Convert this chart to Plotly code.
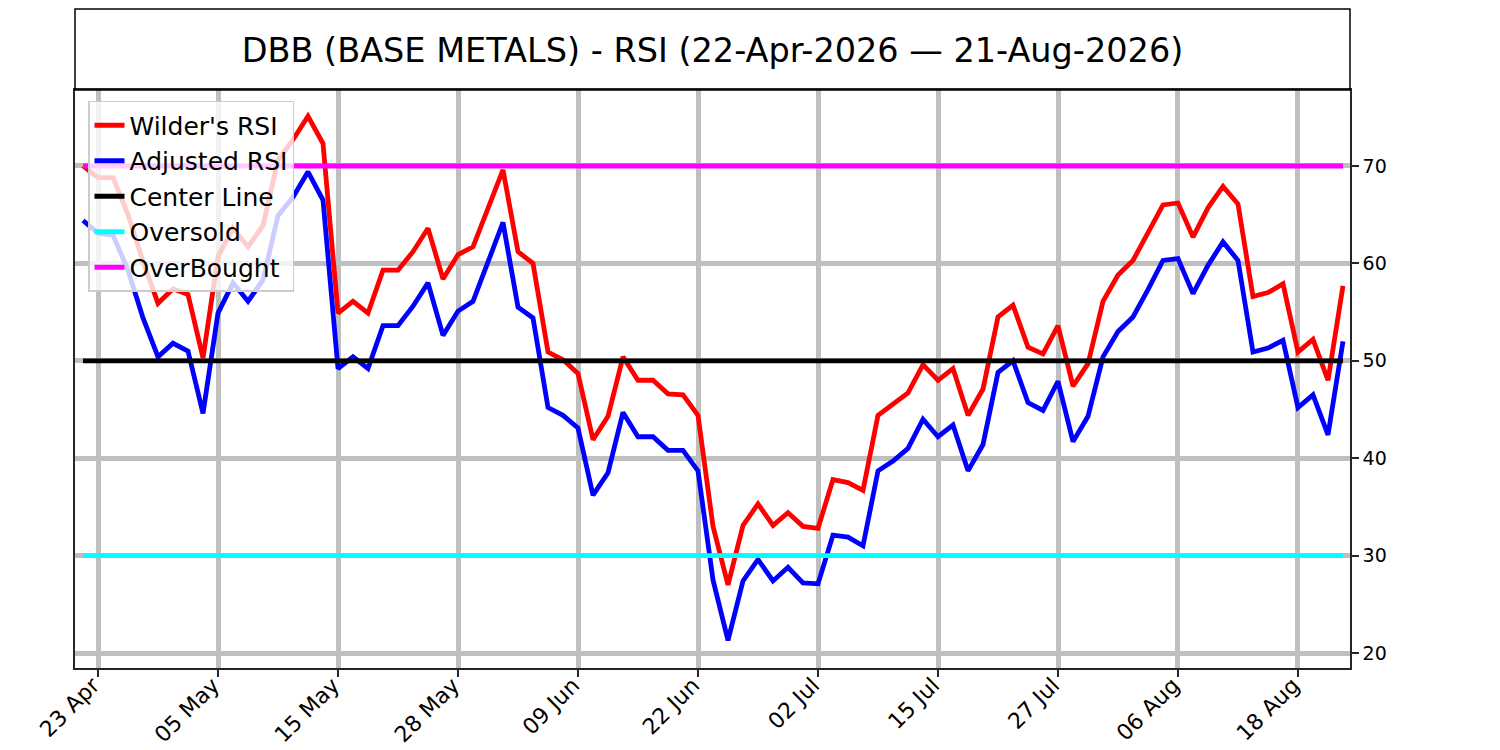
import plotly.graph_objects as go

dates = [
    "2026-04-22", "2026-04-23", "2026-04-24", "2026-04-27", "2026-04-28", "2026-04-29", "2026-04-30",
    "2026-05-01", "2026-05-04", "2026-05-05", "2026-05-06", "2026-05-07", "2026-05-08",
    "2026-05-11", "2026-05-12", "2026-05-13", "2026-05-14", "2026-05-15",
    "2026-05-18", "2026-05-19", "2026-05-20", "2026-05-21", "2026-05-22",
    "2026-05-26", "2026-05-27", "2026-05-28", "2026-05-29",
    "2026-06-01", "2026-06-02", "2026-06-03", "2026-06-04", "2026-06-05",
    "2026-06-08", "2026-06-09", "2026-06-10", "2026-06-11", "2026-06-12",
    "2026-06-15", "2026-06-16", "2026-06-17", "2026-06-18",
    "2026-06-22", "2026-06-23", "2026-06-24", "2026-06-25", "2026-06-26",
    "2026-06-29", "2026-06-30", "2026-07-01", "2026-07-02",
    "2026-07-06", "2026-07-07", "2026-07-08", "2026-07-09", "2026-07-10",
    "2026-07-13", "2026-07-14", "2026-07-15", "2026-07-16", "2026-07-17",
    "2026-07-20", "2026-07-21", "2026-07-22", "2026-07-23", "2026-07-24",
    "2026-07-27", "2026-07-28", "2026-07-29", "2026-07-30", "2026-07-31",
    "2026-08-03", "2026-08-04", "2026-08-05", "2026-08-06", "2026-08-07",
    "2026-08-10", "2026-08-11", "2026-08-12", "2026-08-13", "2026-08-14",
    "2026-08-17", "2026-08-18", "2026-08-19", "2026-08-20", "2026-08-21",
]

wilder_rsi = [
    70.0, 68.8, 68.8, 65.0, 60.2, 55.9, 57.4, 56.8, 50.3, 60.7,
    63.6, 61.7, 63.9, 70.6, 72.7, 75.1, 72.3, 54.9, 56.1, 54.9,
    59.3, 59.3, 61.2, 63.6, 58.4, 60.9, 61.7, 65.7, 69.6, 61.2,
    60.0, 50.9, 50.1, 48.7, 41.9, 44.3, 50.4, 48.0, 48.0, 46.6,
    46.5, 44.4, 33.0, 27.0, 33.1, 35.3, 33.1, 34.4, 33.0, 32.8,
    37.8, 37.5, 36.7, 44.4, 45.5, 46.7, 49.6, 48.0, 49.2, 44.4,
    47.1, 54.5, 55.7, 51.4, 50.7, 53.6, 47.4, 49.7, 56.1, 58.8,
    60.3, 63.2, 66.0, 66.2, 62.7, 65.7, 67.9, 66.1, 56.6, 57.0,
    57.9, 50.9, 52.2, 48.0, 57.7,
]

adjusted_rsi = [
    64.4, 63.1, 62.9, 59.3, 54.4, 50.4, 51.8, 51.0, 44.6, 54.9,
    58.0, 56.1, 58.3, 64.9, 66.8, 69.4, 66.5, 49.2, 50.4, 49.2,
    53.6, 53.6, 55.6, 58.0, 52.6, 55.1, 56.1, 60.0, 64.2, 55.5,
    54.4, 45.2, 44.4, 43.1, 36.2, 38.5, 44.7, 42.2, 42.2, 40.8,
    40.8, 38.7, 27.5, 21.3, 27.4, 29.6, 27.4, 28.8, 27.2, 27.1,
    32.1, 31.9, 31.0, 38.7, 39.7, 41.0, 44.0, 42.2, 43.4, 38.7,
    41.4, 48.8, 50.0, 45.7, 44.9, 47.9, 41.7, 44.3, 50.4, 53.0,
    54.5, 57.3, 60.3, 60.5, 56.9, 59.8, 62.2, 60.3, 50.9, 51.3,
    52.1, 45.2, 46.5, 42.4, 52.0,
]

center_level = 50
oversold_level = 30
overbought_level = 70

tick_dates = ["2026-04-23", "2026-05-05", "2026-05-15", "2026-05-28", "2026-06-09",
              "2026-06-22", "2026-07-02", "2026-07-15", "2026-07-27", "2026-08-06", "2026-08-18"]
tick_labels = ["23 Apr", "05 May", "15 May", "28 May", "09 Jun",
               "22 Jun", "02 Jul", "15 Jul", "27 Jul", "06 Aug", "18 Aug"]
y_ticks = [20, 30, 40, 50, 60, 70]

title_text = "DBB (BASE METALS) - RSI (22-Apr-2026 \u2014 21-Aug-2026)"

FONT = "DejaVu Sans"
LW = 4.8

fig = go.Figure()
series = [
    ("Wilder's RSI", wilder_rsi, "#ff0000"),
    ("Adjusted RSI", adjusted_rsi, "#0000ff"),
    ("Center Line", [center_level] * len(dates), "#000000"),
    ("Oversold", [oversold_level] * len(dates), "#00ffff"),
    ("OverBought", [overbought_level] * len(dates), "#ff00ff"),
]
for name, vals, col in series:
    fig.add_trace(go.Scatter(
        x=dates, y=vals, mode="lines", name=name,
        line=dict(color=col, width=LW),
        legendgroup=name,
    ))

fig.update_layout(
    width=1500, height=750,
    margin=dict(l=67, r=158, t=82, b=90, autoexpand=False),
    paper_bgcolor="white", plot_bgcolor="white",
    font=dict(family=FONT, color="black", size=19),
    showlegend=True,
    legend=dict(
        x=0.0102, y=0.981, xanchor="left", yanchor="top",
        bgcolor="rgba(255,255,255,0.8)", bordercolor="#cccccc", borderwidth=1.5,
        font=dict(family=FONT, size=25, color="black"),
        itemwidth=30, tracegroupgap=0,
    ),
    title=dict(
        text=title_text, x=0.5, xref="paper", xanchor="center",
        y=1 - 42 / 750, yref="container", yanchor="middle",
        font=dict(family=FONT, size=33.5, color="black"),
    ),
    shapes=[dict(
        type="rect", xref="paper", yref="paper",
        x0=0, x1=1, y0=1, y1=1 + 81 / 578,
        line=dict(color="black", width=1.5), fillcolor="rgba(0,0,0,0)",
    )],
)

fig.update_xaxes(
    type="category",
    range=[-0.533, 84.467],
    tickmode="array", tickvals=tick_dates, ticktext=tick_labels,
    tickangle=-45, automargin=False,
    ticklabelstandoff=-13, ticklabelshift=-5,
    ticks="outside", ticklen=7, tickwidth=1.5, tickcolor="#262626",
    showgrid=True, gridcolor="#bfbfbf", gridwidth=4.8,
    showline=True, linecolor="#262626", linewidth=1.5, mirror=True,
    zeroline=False,
    tickfont=dict(family=FONT, size=22, color="black"),
)
fig.update_yaxes(
    side="right", automargin=False,
    range=[18.46, 77.8],
    tickmode="array", tickvals=y_ticks,
    ticks="outside", ticklen=7, tickwidth=1.5, tickcolor="#262626",
    showgrid=True, gridcolor="#bfbfbf", gridwidth=4.8,
    showline=True, linecolor="#262626", linewidth=1.5, mirror=True,
    zeroline=False,
    tickfont=dict(family=FONT, size=19, color="black"),
)

fig.write_html("out.html")
